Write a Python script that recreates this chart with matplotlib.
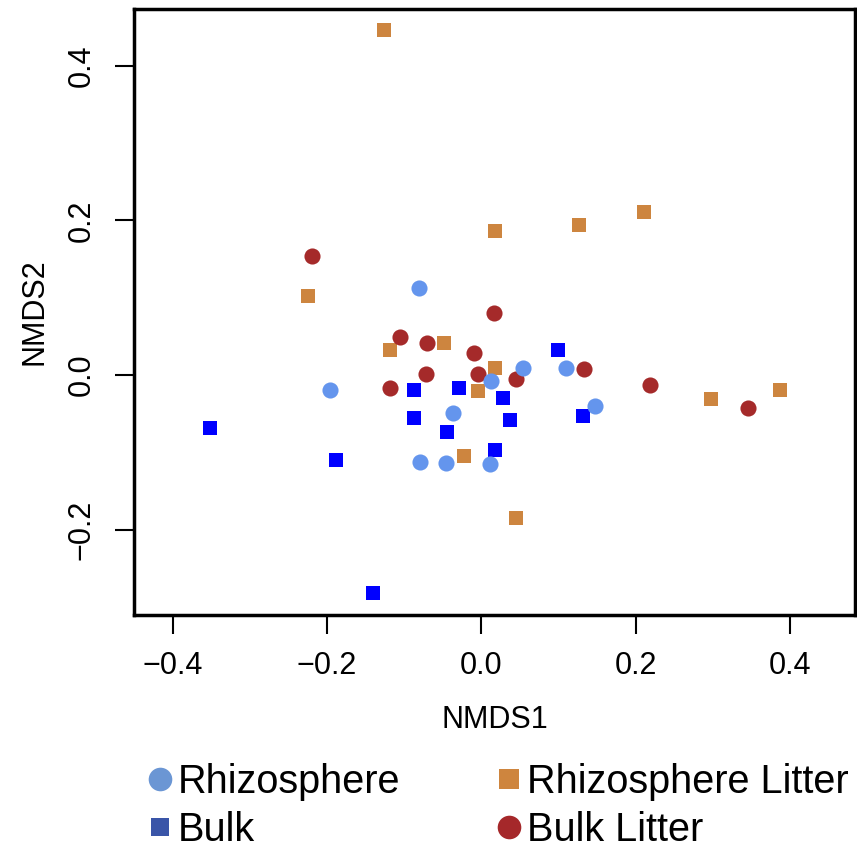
import matplotlib
matplotlib.use("Agg")
import matplotlib.pyplot as plt
from matplotlib.lines import Line2D

plt.rcParams['font.family'] = ['Liberation Sans', 'DejaVu Sans']

# NMDS coordinates, one pair of lists per group
rhizo_x = [-0.081, -0.196, 0.013, 0.054, 0.109, 0.147, -0.037, -0.080, -0.046, 0.011]
rhizo_y = [0.113, -0.019, -0.007, 0.009, 0.009, -0.040, -0.049, -0.112, -0.114, -0.115]

bulk_x = [-0.351, -0.188, -0.140, -0.087, -0.087, -0.029, 0.028, 0.099, -0.045, 0.037, 0.132, 0.017]
bulk_y = [-0.068, -0.110, -0.282, -0.019, -0.056, -0.016, -0.029, 0.032, -0.074, -0.058, -0.053, -0.097]

rlit_x = [-0.126, 0.210, 0.126, 0.018, -0.224, -0.119, -0.048, 0.017, -0.005, -0.022, 0.297, 0.387, 0.045]
rlit_y = [0.446, 0.211, 0.194, 0.186, 0.103, 0.032, 0.041, 0.009, -0.020, -0.104, -0.031, -0.019, -0.184]

blit_x = [-0.220, -0.106, -0.071, -0.072, -0.118, 0.016, -0.009, -0.004, 0.045, 0.133, 0.219, 0.345]
blit_y = [0.154, 0.049, 0.041, 0.002, -0.016, 0.080, 0.029, 0.001, -0.005, 0.008, -0.013, -0.043]

groups = ["Rhizosphere", "Bulk", "Rhizosphere Litter", "Bulk Litter"]

fig = plt.figure(figsize=(8.57, 8.52), dpi=100)
ax = fig.add_axes([0.1564, 0.2782, 0.8413, 0.7118])

# draw order: bulk squares, litter, then rhizosphere on top
ax.plot(bulk_x, bulk_y, "s", color="#0000FF", ms=10.4, mew=0)
ax.plot(rlit_x, rlit_y, "s", color="#CD853F", ms=10.4, mew=0)
ax.plot(blit_x, blit_y, "o", color="#A52A2A", ms=11.6, mew=0)
ax.plot(rhizo_x, rhizo_y, "o", color="#6495ED", ms=11.6, mew=0)

ax.set_xlim(-0.450, 0.484)
ax.set_ylim(-0.310, 0.474)
ax.set_xticks([-0.4, -0.2, 0.0, 0.2, 0.4])
ax.set_yticks([-0.2, 0.0, 0.2, 0.4])
ax.set_xticklabels(["\u22120.4", "\u22120.2", "0.0", "0.2", "0.4"])
ax.set_yticklabels(["\u22120.2", "0.0", "0.2", "0.4"], rotation=90, va="center")
ax.tick_params(length=14, width=1.5, labelsize=22, pad=12)
ax.tick_params(axis="y", pad=13)
for s in ax.spines.values():
    s.set_linewidth(2.5)

ax.set_xlabel("NMDS1", fontsize=22, labelpad=17.5)
ax.set_ylabel("NMDS2", fontsize=22, labelpad=12.5)

# legend below the plot (R draws these with slightly different colours)
handles = [
    Line2D([], [], ls="", marker="o", color="#6B96D4", ms=17, mew=0),
    Line2D([], [], ls="", marker="s", color="#3A55A8", ms=13, mew=0),
    Line2D([], [], ls="", marker="s", color="#CE853E", ms=14.5, mew=0),
    Line2D([], [], ls="", marker="o", color="#A5282A", ms=17, mew=0),
]
fig.legend(handles, groups, ncol=2, loc="upper left", bbox_to_anchor=(0.1725, 0.1045),
           frameon=False, fontsize=28.5, handlelength=0.6, handletextpad=0.15,
           columnspacing=2.46, labelspacing=0.25, borderpad=0, borderaxespad=0)

fig.savefig("out.png", dpi=100)
